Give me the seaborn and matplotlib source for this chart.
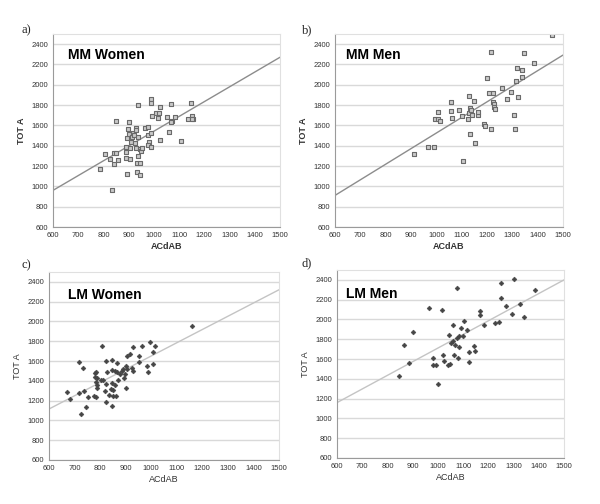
import matplotlib
matplotlib.use("Agg")
import matplotlib.pyplot as plt
import numpy as np
import pandas as pd
import seaborn as sns

# values (ACdAB vs TOT A)
mm_women_x = [788, 805, 826, 832, 841, 842, 849, 849, 859, 888, 888, 891, 892, 895, 898, 902, 902,
              904, 907, 908, 915, 918, 922, 924, 928, 931, 931, 935, 935, 937, 937, 937, 943, 943,
              943, 948, 951, 966, 978, 978, 981, 978, 988, 989, 991, 987, 988, 1008, 1017, 1020,
              1026, 1026, 1050, 1059, 1067, 1072, 1069, 1085, 1109, 1137, 1147, 1152, 1157, 1150]
mm_women_y = [1170, 1317, 1271, 967, 1225, 1326, 1644, 1326, 1258, 1284, 1392, 1343, 1474, 1124,
              1562, 1631, 1513, 1267, 1376, 1441, 1490, 1523, 1506, 1425, 1376, 1578, 1556, 1137,
              1228, 1490, 1801, 1303, 1111, 1228, 1366, 1349, 1376, 1572, 1588, 1506, 1441, 1408,
              1392, 1529, 1696, 1863, 1817, 1719, 1670, 1719, 1458, 1778, 1680, 1539, 1814, 1647,
              1638, 1686, 1448, 1660, 1821, 1696, 1660, 1663]

mm_men_x = [910, 969, 991, 993, 1005, 1008, 1015, 1059, 1059, 1061, 1090, 1101, 1105, 1124, 1127,
            1129, 1131, 1133, 1137, 1140, 1149, 1153, 1166, 1166, 1189, 1193, 1200, 1206, 1215,
            1215, 1222, 1223, 1226, 1228, 1231, 1260, 1279, 1294, 1306, 1311, 1314, 1319, 1323,
            1338, 1339, 1348, 1385, 1456]
mm_men_y = [1317, 1392, 1392, 1664, 1736, 1664, 1647, 1742, 1827, 1677, 1755, 1693, 1251, 1664,
            1889, 1719, 1768, 1516, 1752, 1703, 1843, 1425, 1703, 1736, 1614, 1595, 2070, 1922,
            2325, 1565, 1833, 1916, 1811, 1785, 1762, 1965, 1860, 1925, 1703, 1569, 2040, 2161,
            1876, 2079, 2148, 2315, 2217, 2492]

lm_women_x = [672, 682, 717, 717, 725, 732, 738, 746, 751, 777, 779, 781, 784, 785, 785, 787, 788,
              789, 805, 809, 811, 819, 822, 822, 824, 828, 834, 841, 845, 845, 847, 847, 850, 852,
              857, 860, 862, 866, 867, 870, 876, 884, 888, 894, 897, 900, 900, 904, 907, 918, 926,
              929, 930, 951, 952, 965, 985, 989, 994, 1006, 1007, 1015, 1160]
lm_women_y = [1283, 1219, 1586, 1280, 1061, 1532, 1296, 1138, 1239, 1249, 1475, 1441, 1391, 1492,
              1239, 1357, 1330, 1425, 1408, 1751, 1408, 1296, 1189, 1599, 1364, 1488, 1256, 1320,
              1609, 1145, 1374, 1508, 1307, 1246, 1357, 1502, 1249, 1582, 1485, 1408, 1468, 1498,
              1519, 1424, 1465, 1323, 1549, 1519, 1650, 1667, 1525, 1502, 1737, 1650, 1586, 1751,
              1549, 1492, 1794, 1569, 1693, 1754, 1953]

lm_men_x = [845, 865, 887, 902, 964, 982, 982, 993, 1002, 1018, 1022, 1026, 1041, 1043, 1049, 1051,
            1059, 1061, 1064, 1069, 1074, 1076, 1078, 1082, 1084, 1090, 1098, 1102, 1117, 1124,
            1124, 1144, 1147, 1167, 1168, 1181, 1227, 1243, 1251, 1251, 1272, 1294, 1300, 1325,
            1343, 1387]
lm_men_y = [1430, 1740, 1565, 1875, 2120, 1610, 1535, 1535, 1350, 2095, 1637, 1582, 1535, 1848,
            1552, 1761, 1781, 1942, 1643, 1744, 1808, 2316, 1609, 1720, 1835, 1912, 1828, 1983,
            1895, 1673, 1566, 1727, 1680, 2083, 2047, 1946, 1963, 1979, 2366, 2222, 2141, 2053,
            2410, 2154, 2030, 2299]

# trend lines as drawn (slope, intercept)
fit_slope = [1.456, 1.535, 1.339, 1.378]
fit_intercept = [87, -10, 312, 333]

titles = ["MM Women", "MM Men", "LM Women", "LM Men"]
letters = ["a)", "b)", "c)", "d)"]

sns.set_theme(style="white")
plt.rcParams["font.family"] = ["Liberation Sans", "DejaVu Sans"]

fig = plt.figure(figsize=(6, 5.04), dpi=100)
W, H = 600, 504
# pixel boxes: left, right, top, bottom
boxes = [(53, 280, 34, 227), (335, 563, 34, 227), (49, 279, 272, 460), (337, 564, 270, 458)]

datasets = [(mm_women_x, mm_women_y), (mm_men_x, mm_men_y),
            (lm_women_x, lm_women_y), (lm_men_x, lm_men_y)]
title_pos = [(0.066, 0.93), (0.048, 0.93), (0.083, 0.915), (0.04, 0.91)]
letter_pos = [(21, 30), (302, 30), (21, 265), (302, 263)]

for i, ((x, y), (l, r, t, b)) in enumerate(zip(datasets, boxes)):
    ax = fig.add_axes([l / W, 1 - b / H, (r - l) / W, (b - t) / H])
    df = pd.DataFrame({"ACdAB": x, "TOT A": y})
    mm = i < 2
    for yy in range(600, 2600, 200):
        ax.axhline(yy, color="#d9d9d9", lw=1, zorder=0)
    ax.axline((0, fit_intercept[i]), slope=fit_slope[i],
              color="#8c8c8c" if mm else "#c4c4c4", lw=1, zorder=1)
    if mm:
        sns.scatterplot(data=df, x="ACdAB", y="TOT A", ax=ax, marker="s", s=12,
                        color="#c9c9c9", edgecolor="#6a6a6a", linewidth=0.8, zorder=2)
    else:
        sns.scatterplot(data=df, x="ACdAB", y="TOT A", ax=ax, marker="D", s=6,
                        color="#454545", edgecolor="#454545", linewidth=0.4, zorder=2)
    ax.set_xlim(600, 1500)
    ax.set_ylim(600, 2500)
    ax.set_xticks(np.arange(600, 1501, 100))
    ax.set_yticks(np.arange(600, 2401, 200))
    ax.tick_params(labelsize=5.5, colors="#333333", length=2, width=0.6, pad=1.5)
    for s in ["top", "right"]:
        ax.spines[s].set_color("#e0e0e0")
        ax.spines[s].set_linewidth(0.8)
    for s in ["left", "bottom"]:
        ax.spines[s].set_color("#9a9a9a")
        ax.spines[s].set_linewidth(0.8)
    w = "bold" if mm else "normal"
    ax.set_xlabel("ACdAB", fontsize=6.5, fontweight=w, color="#333333", labelpad=2)
    ax.set_ylabel("TOT A", fontsize=6.5, fontweight=w, color="#333333", labelpad=4)
    ax.text(title_pos[i][0], title_pos[i][1], titles[i], transform=ax.transAxes,
            fontsize=10, fontweight="bold", va="top", ha="left", color="black")
    fig.text(letter_pos[i][0] / W, 1 - letter_pos[i][1] / H, letters[i],
             family=["Liberation Serif", "DejaVu Serif"], fontsize=9, va="center", ha="left")

fig.savefig("out.png", dpi=100)
